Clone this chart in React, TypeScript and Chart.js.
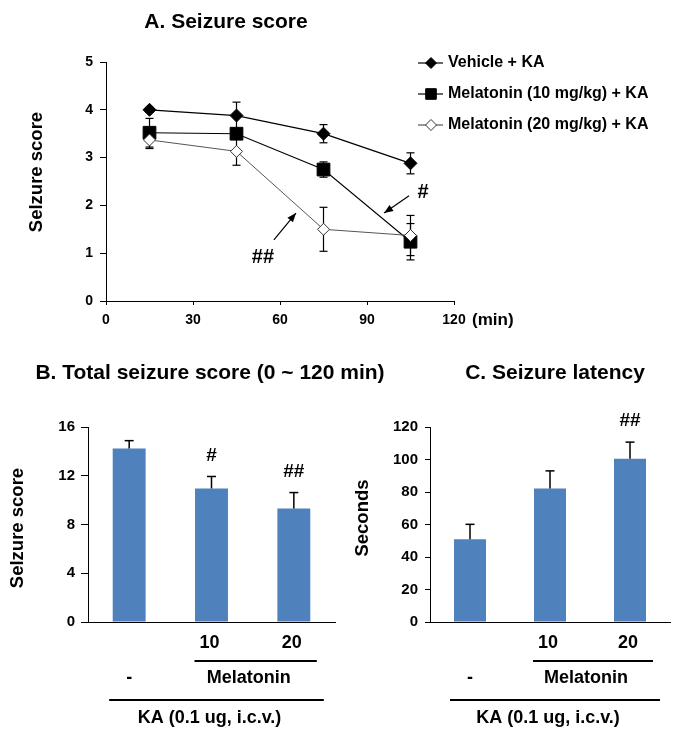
import React, { useEffect, useRef } from 'react';
import { Chart, registerables } from 'chart.js';

Chart.register(...registerables);

const FONT = '"Liberation Sans", Arial, Helvetica, sans-serif';

// ---------- Panel A: seizure score over time ----------
const timePoints = [15, 45, 75, 105];
const timeTicks = [0, 30, 60, 90, 120];
const seriesNames = ['Vehicle + KA', 'Melatonin (10 mg/kg) + KA', 'Melatonin (20 mg/kg) + KA'];
const vehicleScore = [4.0, 3.88, 3.5, 2.88];
const vehicleErr = [0.05, 0.28, 0.19, 0.22];
const mel10Score = [3.52, 3.5, 2.75, 1.24];
const mel10Err = [0.3, 0.1, 0.16, 0.38];
const mel20Score = [3.37, 3.13, 1.5, 1.37];
const mel20Err = [0.18, 0.29, 0.46, 0.42];
// annotation marks in data coordinates
const annotA = [
  { text: '#', at: [109.3, 2.26], from: [104.5, 2.2], to: [95.9, 1.84] },
  { text: '##', at: [54.1, 0.92], from: [57.9, 1.28], to: [65.5, 1.84] },
];

// ---------- Panel B: total seizure score ----------
const groups = ['-', '10', '20'];
const totalScore = [14.23, 10.96, 9.32];
const totalErr = [0.65, 0.98, 1.3];
const totalMarks = ['', '#', '##'];
const totalTicks = [0, 4, 8, 12, 16];

// ---------- Panel C: seizure latency ----------
const latency = [50.9, 82.2, 100.5];
const latencyErr = [9.2, 10.8, 10.2];
const latencyMarks = ['', '', '##'];
const latencyTicks = [0, 20, 40, 60, 80, 100, 120];

const BAR_BLUE = '#4F81BD';

function text(
  ctx: CanvasRenderingContext2D,
  s: string,
  x: number,
  y: number,
  size: number,
  align: CanvasTextAlign = 'center',
  rotate = 0,
  weight = 'bold'
) {
  ctx.save();
  ctx.fillStyle = '#000';
  ctx.font = `${weight} ${size}px ${FONT}`;
  ctx.textAlign = align;
  ctx.textBaseline = 'middle';
  ctx.translate(x, y);
  if (rotate) ctx.rotate(rotate);
  ctx.fillText(s, 0, 0);
  ctx.restore();
}

function line(ctx: CanvasRenderingContext2D, x1: number, y1: number, x2: number, y2: number, w = 1, color = '#000') {
  ctx.save();
  ctx.strokeStyle = color;
  ctx.lineWidth = w;
  ctx.beginPath();
  ctx.moveTo(x1, y1);
  ctx.lineTo(x2, y2);
  ctx.stroke();
  ctx.restore();
}

function arrow(ctx: CanvasRenderingContext2D, x1: number, y1: number, x2: number, y2: number) {
  line(ctx, x1, y1, x2, y2, 1.2);
  const a = Math.atan2(y2 - y1, x2 - x1);
  const len = 9;
  const hw = 3.6;
  ctx.save();
  ctx.fillStyle = '#000';
  ctx.beginPath();
  ctx.moveTo(x2, y2);
  ctx.lineTo(x2 - len * Math.cos(a) + hw * Math.sin(a), y2 - len * Math.sin(a) - hw * Math.cos(a));
  ctx.lineTo(x2 - len * Math.cos(a) - hw * Math.sin(a), y2 - len * Math.sin(a) + hw * Math.cos(a));
  ctx.closePath();
  ctx.fill();
  ctx.restore();
}

function marker(ctx: CanvasRenderingContext2D, style: string, x: number, y: number, r: number, fill: string, stroke: string) {
  ctx.save();
  ctx.beginPath();
  if (style === 'rectRot') {
    ctx.moveTo(x - r, y);
    ctx.lineTo(x, y - r);
    ctx.lineTo(x + r, y);
    ctx.lineTo(x, y + r);
    ctx.closePath();
  } else {
    const h = r * Math.SQRT1_2;
    ctx.rect(x - h, y - h, 2 * h, 2 * h);
  }
  ctx.fillStyle = fill;
  ctx.fill();
  ctx.strokeStyle = stroke;
  ctx.lineWidth = 1;
  ctx.stroke();
  ctx.restore();
}

const seriesStyle = [
  { style: 'rectRot', r: 6.5, fill: '#000', stroke: '#000', line: '#000', lw: 1.3, legendR: 5.5 },
  { style: 'rect', r: 9, fill: '#000', stroke: '#000', line: '#000', lw: 1.1, legendR: 7.5 },
  { style: 'rectRot', r: 6, fill: '#fff', stroke: '#333', line: '#555', lw: 1, legendR: 5.5 },
];

function makeLineChart(canvas: HTMLCanvasElement) {
  const values = [vehicleScore, mel10Score, mel20Score];
  const errs = [vehicleErr, mel10Err, mel20Err];
  const plugin = {
    id: 'panelA',
    beforeDatasetsDraw(chart: any) {
      const { ctx, scales } = chart;
      const x = scales.x;
      const y = scales.y;
      values.forEach((vals, di) => {
        vals.forEach((v, i) => {
          const px = x.getPixelForValue(timePoints[i]);
          const t = y.getPixelForValue(v + errs[di][i]);
          const b = y.getPixelForValue(v - errs[di][i]);
          line(ctx, px, t, px, b, 1.2);
          line(ctx, px - 4, t, px + 4, t, 1.2);
          line(ctx, px - 4, b, px + 4, b, 1.2);
        });
      });
    },
    afterDraw(chart: any) {
      const { ctx, scales } = chart;
      const x = scales.x;
      const y = scales.y;
      text(ctx, 'A. Seizure score', 226, 22, 21);
      text(ctx, 'Selzure score', 37, 172, 18.5, 'center', -Math.PI / 2);
      text(ctx, '(min)', 472, 320, 17, 'left');
      // legend
      const rows = [63, 94, 125];
      seriesNames.forEach((name, i) => {
        const s = seriesStyle[i];
        line(ctx, 418, rows[i], 443, rows[i], 1.2, s.line);
        marker(ctx, s.style, 431, rows[i], s.legendR, s.fill, s.stroke);
        text(ctx, name, 448, rows[i], 16, 'left');
      });
      annotA.forEach((a) => {
        text(ctx, a.text, x.getPixelForValue(a.at[0]), y.getPixelForValue(a.at[1]), 20);
        arrow(
          ctx,
          x.getPixelForValue(a.from[0]),
          y.getPixelForValue(a.from[1]),
          x.getPixelForValue(a.to[0]),
          y.getPixelForValue(a.to[1])
        );
      });
    },
  };

  return new Chart(canvas, {
    type: 'line',
    data: {
      datasets: values.map((vals, di) => ({
        label: seriesNames[di],
        data: vals.map((v, i) => ({ x: timePoints[i], y: v })),
        borderColor: seriesStyle[di].line,
        borderWidth: seriesStyle[di].lw,
        pointStyle: seriesStyle[di].style as any,
        pointRadius: seriesStyle[di].r,
        pointBackgroundColor: seriesStyle[di].fill,
        pointBorderColor: seriesStyle[di].stroke,
        pointBorderWidth: 1,
        tension: 0,
        fill: false,
        order: 2 - di,
      })),
    },
    options: {
      animation: false,
      responsive: false,
      maintainAspectRatio: false,
      devicePixelRatio: 1,
      layout: { padding: { left: 0, top: 62, right: 231, bottom: 9 } },
      plugins: { legend: { display: false }, tooltip: { enabled: false }, title: { display: false } },
      scales: {
        x: {
          type: 'linear',
          min: timeTicks[0],
          max: timeTicks[timeTicks.length - 1],
          afterBuildTicks: (s: any) => {
            s.ticks = timeTicks.map((v) => ({ value: v }));
          },
          ticks: { color: '#000', font: { family: FONT, size: 14, weight: 'bold' }, padding: 7, maxRotation: 0 },
          grid: { drawOnChartArea: false, tickLength: 4, color: '#000' },
          border: { color: '#000', width: 1 },
          afterFit: (s: any) => {
            s.height = 30;
          },
        },
        y: {
          min: 0,
          max: 5,
          ticks: { stepSize: 1, color: '#000', font: { family: FONT, size: 14, weight: 'bold' }, padding: 7 },
          grid: { drawOnChartArea: false, tickLength: 6, color: '#000' },
          border: { color: '#000', width: 1 },
          afterFit: (s: any) => {
            s.width = 106;
          },
        },
      },
    },
    plugins: [plugin],
  } as any);
}

interface BarCfg {
  title: string;
  titleX: number;
  yTitle: string;
  yTitleX: number;
  yTitleY: number;
  values: number[];
  errs: number[];
  marks: string[];
  ticks: number[];
  padRight: number;
  tickLength: number;
  tickPadding: number;
}

function makeBarChart(canvas: HTMLCanvasElement, cfg: BarCfg) {
  const plugin = {
    id: 'barExtras',
    afterDatasetsDraw(chart: any) {
      const { ctx, scales } = chart;
      const y = scales.y;
      const meta = chart.getDatasetMeta(0);
      cfg.values.forEach((v, i) => {
        const px = meta.data[i].x;
        const t = y.getPixelForValue(v + cfg.errs[i]);
        const b = y.getPixelForValue(v);
        line(ctx, px, b, px, t, 1.5);
        line(ctx, px - 4.5, t, px + 4.5, t, 1.5);
        if (cfg.marks[i]) text(ctx, cfg.marks[i], px, t - 21, 19);
      });
    },
    afterDraw(chart: any) {
      const { ctx } = chart;
      const meta = chart.getDatasetMeta(0);
      const cx = meta.data.map((e: any) => e.x);
      text(ctx, cfg.title, cfg.titleX, 33, 21);
      text(ctx, cfg.yTitle, cfg.yTitleX, cfg.yTitleY, 18.5, 'center', -Math.PI / 2);
      // dose labels
      text(ctx, groups[1], cx[1] - 2, 303, 18);
      text(ctx, groups[2], cx[2] - 2, 303, 18);
      line(ctx, cx[1] - 17, 321, cx[2] + 23, 321, 2);
      text(ctx, groups[0], cx[0], 338, 18);
      text(ctx, 'Melatonin', (cx[1] + cx[2]) / 2 - 4, 338, 18);
      const l1 = cx[0] - 20;
      const l2 = cx[2] + 30;
      line(ctx, l1, 360, l2, 360, 2);
      text(ctx, 'KA (0.1 ug, i.c.v.)', (l1 + l2) / 2 - 7, 378, 18);
    },
  };

  return new Chart(canvas, {
    type: 'bar',
    data: {
      labels: groups,
      datasets: [
        {
          data: cfg.values,
          backgroundColor: BAR_BLUE,
          borderWidth: 0,
          barPercentage: 0.4,
          categoryPercentage: 1,
        },
      ],
    },
    options: {
      animation: false,
      responsive: false,
      maintainAspectRatio: false,
      devicePixelRatio: 1,
      layout: { padding: { left: 0, top: 87, right: cfg.padRight, bottom: 109 } },
      plugins: { legend: { display: false }, tooltip: { enabled: false }, title: { display: false } },
      scales: {
        x: {
          ticks: { display: false },
          grid: { drawOnChartArea: false, drawTicks: false, color: '#000' },
          border: { color: '#000', width: 1 },
          afterFit: (s: any) => {
            s.height = 10;
          },
        },
        y: {
          min: cfg.ticks[0],
          max: cfg.ticks[cfg.ticks.length - 1],
          ticks: {
            stepSize: cfg.ticks[1] - cfg.ticks[0],
            color: '#000',
            font: { family: FONT, size: 15, weight: 'bold' },
            padding: cfg.tickPadding,
          },
          grid: { drawOnChartArea: false, tickLength: cfg.tickLength, color: '#000' },
          border: { color: '#000', width: 1 },
          afterFit: (s: any) => {
            s.width = 88;
          },
        },
      },
    },
    plugins: [plugin],
  } as any);
}

export default function App() {
  const refA = useRef<HTMLCanvasElement>(null);
  const refB = useRef<HTMLCanvasElement>(null);
  const refC = useRef<HTMLCanvasElement>(null);

  useEffect(() => {
    const charts: Chart[] = [];
    if (refA.current) charts.push(makeLineChart(refA.current));
    if (refB.current)
      charts.push(
        makeBarChart(refB.current, {
          title: 'B. Total seizure score (0 ~ 120 min)',
          titleX: 210,
          yTitle: 'Selzure score',
          yTitleX: 18,
          yTitleY: 188,
          values: totalScore,
          errs: totalErr,
          marks: totalMarks,
          ticks: totalTicks,
          padRight: 65,
          tickLength: 7,
          tickPadding: 6,
        })
      );
    if (refC.current)
      charts.push(
        makeBarChart(refC.current, {
          title: 'C. Seizure latency',
          titleX: 213,
          yTitle: 'Seconds',
          yTitleX: 21,
          yTitleY: 178,
          values: latency,
          errs: latencyErr,
          marks: latencyMarks,
          ticks: latencyTicks,
          padRight: 15,
          tickLength: 5,
          tickPadding: 7,
        })
      );
    return () => charts.forEach((c) => c.destroy());
  }, []);

  return (
    <div style={{ position: 'fixed', left: 0, top: 0, width: 685, height: 741, background: '#fff', overflow: 'hidden' }}>
      <canvas ref={refA} width={685} height={340} style={{ position: 'absolute', left: 0, top: 0, width: 685, height: 340 }} />
      <canvas ref={refB} width={400} height={401} style={{ position: 'absolute', left: 0, top: 340, width: 400, height: 401 }} />
      <canvas ref={refC} width={343} height={401} style={{ position: 'absolute', left: 342, top: 340, width: 343, height: 401 }} />
    </div>
  );
}
